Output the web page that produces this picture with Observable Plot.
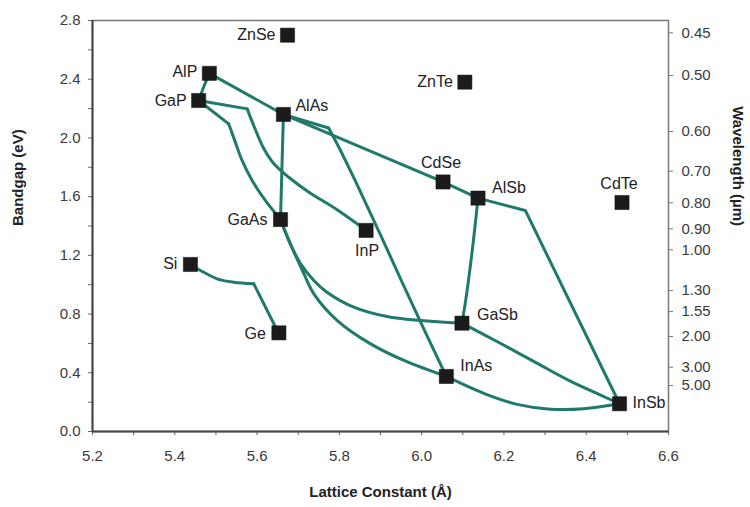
<!DOCTYPE html>
<html>
<head>
<meta charset="utf-8">
<script src="https://cdn.jsdelivr.net/npm/d3@7"></script>
<script src="https://cdn.jsdelivr.net/npm/@observablehq/plot@0.6"></script>
<style>
  html, body { margin: 0; padding: 0; background: #fff; }
</style>
</head>
<body>
<div id="chart"></div>
<script>
// ---- Data ----
const names = ["ZnSe","AlP","GaP","AlAs","GaAs","InP","ZnTe","CdSe","AlSb","CdTe","Si","Ge","GaSb","InAs","InSb"];
const latticeConstant = [5.674,5.484,5.458,5.664,5.657,5.865,6.105,6.052,6.137,6.487,5.438,5.653,6.098,6.060,6.481];
const bandgap = [2.70,2.44,2.255,2.16,1.444,1.37,2.38,1.70,1.59,1.56,1.138,0.672,0.738,0.375,0.189];

// Alloy curves: [lattice constant, bandgap]
const curveAlPGaP     = [[5.484,2.44],[5.470,2.345],[5.458,2.255]];
const curveAlPAlAs    = [[5.484,2.44],[5.664,2.16]];
const curveGaPGaAsA   = [[5.458,2.255],[5.531,2.096]];
const curveGaPGaAsB   = [[5.531,2.096],[5.546,1.980],[5.563,1.850],[5.588,1.710],[5.620,1.574],[5.657,1.444]];
const curveGaPInPA    = [[5.458,2.255],[5.576,2.198]];
const curveGaPInPB    = [[5.576,2.198],[5.594,2.070],[5.616,1.930],[5.641,1.824],[5.677,1.732],[5.726,1.630],[5.791,1.517],[5.865,1.37]];
const curveAlAsGaAs   = [[5.664,2.16],[5.657,1.444]];
const curveAlAsInAsA  = [[5.664,2.16],[5.774,2.068]];
const curveAlAsInAsB  = [[5.774,2.068],[5.800,1.930],[5.840,1.700],[5.900,1.340],[5.980,0.850],[6.060,0.375]];
const curveAlAsAlSb   = [[5.664,2.16],[6.052,1.70],[6.137,1.59]];
const curveAlSbInSb   = [[6.137,1.59],[6.252,1.506],[6.481,0.189]];
const curveAlSbGaSb   = [[6.137,1.59],[6.123,1.233],[6.107,0.892],[6.098,0.738]];
const curveGaAsGaSb   = [[5.657,1.444],[5.677,1.301],[5.706,1.142],[5.738,1.029],[5.770,0.949],[5.835,0.847],[5.916,0.783],[5.997,0.756],[6.098,0.738]];
const curveGaAsInAs   = [[5.657,1.444],[5.681,1.279],[5.714,1.074],[5.738,0.938],[5.795,0.756],[5.876,0.597],[5.957,0.484],[6.060,0.375]];
const curveGaSbInSb   = [[6.098,0.738],[6.190,0.603],[6.280,0.466],[6.360,0.345],[6.435,0.248],[6.481,0.189]];
const curveInAsInSb   = [[6.060,0.375],[6.151,0.260],[6.232,0.185],[6.313,0.152],[6.394,0.155],[6.481,0.189]];
const curveSiGeA      = [[5.438,1.138],[5.4625,1.097],[5.503,1.040],[5.543,1.017],[5.592,1.006]];
const curveSiGeB      = [[5.592,1.006],[5.645,0.710],[5.653,0.672]];

// Axis ticks
const xTickLabels = [5.2,5.4,5.6,5.8,6.0,6.2,6.4,6.6];
const xMinorTicks = [5.3,5.5,5.7,5.9,6.1,6.3,6.5];
const yTickLabels = [0.0,0.4,0.8,1.2,1.6,2.0,2.4,2.8];
const yMinorTicks = [0.2,0.6,1.0,1.4,1.8,2.2,2.6];
const wavelengthLabels = ["0.45","0.50","0.60","0.70","0.80","0.90","1.00","1.30","1.55","2.00","3.00","5.00"];
const wavelengthEnergy = [2.716,2.425,2.044,1.773,1.558,1.381,1.238,0.960,0.817,0.647,0.438,0.313];

// ---- Build tables ----
const points = names.map((n, i) => ({name: n, x: latticeConstant[i], y: bandgap[i]}));
const curves = [
  ["AlP-GaP", curveAlPGaP, "smooth"],
  ["AlP-AlAs", curveAlPAlAs, "linear"],
  ["GaP-GaAs-a", curveGaPGaAsA, "linear"],
  ["GaP-GaAs-b", curveGaPGaAsB, "smooth"],
  ["GaP-InP-a", curveGaPInPA, "linear"],
  ["GaP-InP-b", curveGaPInPB, "smooth"],
  ["AlAs-GaAs", curveAlAsGaAs, "linear"],
  ["AlAs-InAs-a", curveAlAsInAsA, "linear"],
  ["AlAs-InAs-b", curveAlAsInAsB, "smooth"],
  ["AlAs-AlSb", curveAlAsAlSb, "linear"],
  ["AlSb-InSb", curveAlSbInSb, "linear"],
  ["AlSb-GaSb", curveAlSbGaSb, "smooth"],
  ["GaAs-GaSb", curveGaAsGaSb, "smooth"],
  ["GaAs-InAs", curveGaAsInAs, "smooth"],
  ["GaSb-InSb", curveGaSbInSb, "smooth"],
  ["InAs-InSb", curveInAsInSb, "smooth"],
  ["Si-Ge-a", curveSiGeA, "smooth"],
  ["Si-Ge-b", curveSiGeB, "linear"]
];
const curveRows = curves.flatMap(([id, pts, kind]) => pts.map(([x, y]) => ({id, x, y, kind})));
const wlMap = new Map(wavelengthEnergy.map((e, i) => [e, wavelengthLabels[i]]));

const teal = "#1f7a6c";
const font = "'Liberation Sans', Arial, Helvetica, sans-serif";

// label placement (code, not data)
const placement = {
  ZnSe: {textAnchor: "end", dx: -12, dy: 0},
  AlP:  {textAnchor: "end", dx: -12, dy: -1},
  GaP:  {textAnchor: "end", dx: -12, dy: 0},
  GaAs: {textAnchor: "end", dx: -13, dy: 0},
  ZnTe: {textAnchor: "end", dx: -12, dy: 0},
  Si:   {textAnchor: "end", dx: -13, dy: -1},
  Ge:   {textAnchor: "end", dx: -13, dy: 1},
  AlAs: {textAnchor: "start", dx: 12, dy: -9},
  AlSb: {textAnchor: "start", dx: 14, dy: -10},
  GaSb: {textAnchor: "start", dx: 15, dy: -8},
  InAs: {textAnchor: "start", dx: 14, dy: -11},
  InSb: {textAnchor: "start", dx: 13, dy: -1},
  CdSe: {textAnchor: "middle", dx: -2, dy: -19},
  CdTe: {textAnchor: "middle", dx: -3, dy: -19},
  InP:  {textAnchor: "middle", dx: 1, dy: 20}
};

const chart = Plot.plot({
  width: 750,
  height: 507,
  marginLeft: 92,
  marginRight: 82,
  marginTop: 20,
  marginBottom: 76,
  x: {domain: [5.2, 6.6]},
  y: {domain: [0, 2.8]},
  style: {fontFamily: font, fontSize: "15px", color: "#3a3a3a", background: "#fff"},
  marks: [
    Plot.frame({stroke: "#777", strokeWidth: 1.5}),
    Plot.axisX({ticks: xMinorTicks, tickSize: 4, tickFormat: () => "", label: null, stroke: "#666"}),
    Plot.axisX({ticks: xTickLabels, tickSize: 4, tickPadding: 15, tickFormat: d => d.toFixed(1), label: null, stroke: "#666"}),
    Plot.axisY({ticks: yMinorTicks, tickSize: 4, tickFormat: () => "", label: null, stroke: "#666"}),
    Plot.axisY({ticks: yTickLabels, tickSize: 4, tickPadding: 8, tickFormat: d => d.toFixed(1), label: null, stroke: "#666"}),
    Plot.axisY({anchor: "right", ticks: wavelengthEnergy, tickSize: 4, tickPadding: 9, tickFormat: d => wlMap.get(d), label: null, stroke: "#777"}),
    Plot.ruleX([5.2], {stroke: "#444", strokeWidth: 2}),
    Plot.ruleY([0], {stroke: "#444", strokeWidth: 2}),
    Plot.line(curveRows, {filter: d => d.kind === "smooth", x: "x", y: "y", z: "id", curve: "catmull-rom", stroke: teal, strokeWidth: 3, strokeLinejoin: "round", strokeLinecap: "round"}),
    Plot.line(curveRows, {filter: d => d.kind === "linear", x: "x", y: "y", z: "id", curve: "linear", stroke: teal, strokeWidth: 3, strokeLinejoin: "round", strokeLinecap: "round"}),
    Plot.dot(points, {x: "x", y: "y", symbol: "square", r: 8, fill: "#1b1b1b", stroke: "#111", strokeWidth: 0.5}),
    ...names.map(n => Plot.text(points, {
      filter: d => d.name === n, x: "x", y: "y", text: "name",
      fontSize: 16, fill: "#222", ...placement[n]
    })),
    Plot.text(["Bandgap (eV)"], {frameAnchor: "left", dx: -74, rotate: -90, fontWeight: "bold", fontSize: 15, fill: "#222"}),
    Plot.text(["Wavelength (µm)"], {frameAnchor: "right", dx: 69, rotate: 90, fontWeight: "bold", fontSize: 15, fill: "#222"}),
    Plot.text(["Lattice Constant (Å)"], {frameAnchor: "bottom", dy: 65, fontWeight: "bold", fontSize: 15, fill: "#222"})
  ]
});
document.getElementById("chart").appendChild(chart);
</script>
</body>
</html>
